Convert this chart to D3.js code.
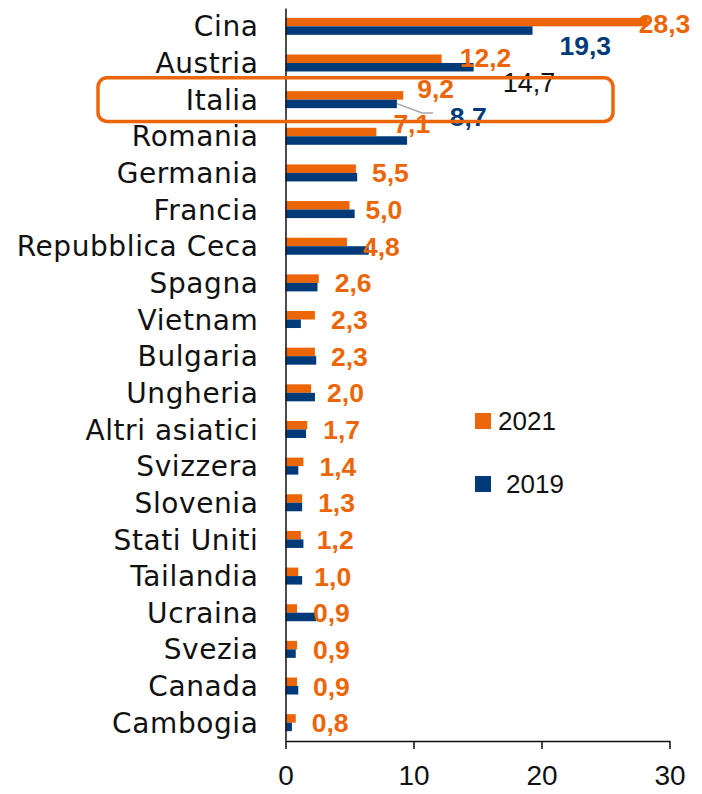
<!DOCTYPE html>
<html><head><meta charset="utf-8">
<script src="https://cdn.jsdelivr.net/npm/d3@7"></script>
<style>
html,body{margin:0;padding:0;background:#fff;}
svg{display:block;}
</style></head>
<body>
<svg id="chart" width="702" height="794"></svg>
<script>
const categories = ["Cina","Austria","Italia","Romania","Germania","Francia","Repubblica Ceca","Spagna","Vietnam","Bulgaria","Ungheria","Altri asiatici","Svizzera","Slovenia","Stati Uniti","Tailandia","Ucraina","Svezia","Canada","Cambogia"];
const values2021 = [28.3,12.2,9.2,7.1,5.5,5.0,4.8,2.6,2.3,2.3,2.0,1.7,1.4,1.3,1.2,1.0,0.9,0.9,0.9,0.8];
const values2019 = [19.3,14.7,8.7,9.5,5.6,5.4,6.5,2.5,1.2,2.4,2.3,1.6,1.0,1.3,1.4,1.3,2.4,0.8,1.0,0.5];
const seriesNames = ["2021","2019"];
const xTicks = [0,10,20,30];

const ORANGE = "#EC6608", BLUE = "#003A78";
const svg = d3.select("#chart");
const x = d3.scaleLinear().domain([0,30]).range([285.5,669.5]);
const y = d3.scaleBand().domain(categories).range([8,741]).padding(0);
const sub = d3.scaleBand().domain(seriesNames).range([0,17]);
const off = (y.bandwidth()-17)/2;

const data = categories.map((c,i)=>({c, v21:values2021[i], v19:values2019[i]}));

// bars
const g = svg.append("g");
g.selectAll("rect.o").data(data).join("rect")
  .attr("x", x(0)).attr("y", d=>y(d.c)+off+sub("2021"))
  .attr("width", d=>x(d.v21)-x(0)).attr("height", sub.bandwidth())
  .attr("fill", ORANGE);
g.selectAll("rect.b").data(data).join("rect")
  .attr("x", x(0)).attr("y", d=>y(d.c)+off+sub("2019"))
  .attr("width", d=>x(d.v19)-x(0)).attr("height", sub.bandwidth())
  .attr("fill", BLUE);

// x axis
const xa = svg.append("g").attr("transform","translate(0,741)")
  .call(d3.axisBottom(x).tickValues(xTicks).tickSize(8).tickPadding(16).tickSizeOuter(0));
xa.select(".domain").attr("stroke","#111").attr("stroke-width",1.5);
xa.selectAll(".tick line").attr("stroke","#111").attr("stroke-width",1.5);
xa.selectAll("text").attr("font-family","Liberation Sans, Arial, sans-serif").attr("font-size",28).attr("fill","#111");

// y axis
const ya = svg.append("g").attr("transform","translate("+x(0)+",0)")
  .call(d3.axisLeft(y).tickSize(0).tickPadding(27));
ya.select(".domain").attr("stroke","#111").attr("stroke-width",1.5);
ya.selectAll("text").attr("font-family","DejaVu Sans, sans-serif").attr("font-size",28)
  .attr("letter-spacing","0.6px").attr("fill","#111").attr("dy","0.36em");

// data labels 2021 (with manual placement tweaks for the top rows)
const adj21 = {"Cina":[-9,-3],"Austria":[18,-6],"Italia":[14,-11],"Romania":[17,-13]};
const fmt = v => d3.format(".1f")(v).replace(".",",");
svg.append("g").selectAll("text").data(data).join("text")
  .attr("x", d=>x(d.v21)+(adj21[d.c]?adj21[d.c][0]:16))
  .attr("y", d=>y(d.c)+y.bandwidth()/2+(adj21[d.c]?adj21[d.c][1]:0))
  .attr("dy","0.36em")
  .attr("font-family","Liberation Sans, Arial, sans-serif").attr("font-weight","bold").attr("font-size",26.5)
  .attr("fill",ORANGE).text(d=>fmt(d.v21));

// data labels 2019 for top rows
const lab19 = [
  {c:"Cina", dx:27, dy:19, color:BLUE, bold:true},
  {c:"Austria", dx:29, dy:19, color:"#111", bold:false},
  {c:"Italia", dx:53, dy:17, color:BLUE, bold:true}
];
const idx = c => categories.indexOf(c);
svg.append("g").selectAll("text").data(lab19).join("text")
  .attr("x", d=>x(values2019[idx(d.c)])+d.dx)
  .attr("y", d=>y(d.c)+y.bandwidth()/2+d.dy)
  .attr("dy","0.36em")
  .attr("font-family","Liberation Sans, Arial, sans-serif")
  .attr("font-weight", d=>d.bold?"bold":"normal")
  .attr("font-size", d=>d.bold?26.5:27)
  .attr("fill", d=>d.color).text(d=>fmt(values2019[idx(d.c)]));

// leader line for Italia 2019
const it = y("Italia");
svg.append("path")
  .attr("d", d3.line()([[x(8.7), it+off+sub("2019")+4],[422,113],[433,113]]))
  .attr("fill","none").attr("stroke","#A6A6A6").attr("stroke-width",1.5);

// highlight box around Italia
svg.append("rect").attr("x",98).attr("y",it-3.5).attr("width",515).attr("height",y.bandwidth()+7)
  .attr("rx",9).attr("ry",9).attr("fill","none").attr("stroke",ORANGE).attr("stroke-width",3.5);

// legend
const leg = svg.append("g");
const legItems = [{n:"2021",c:ORANGE,y:421,tx:498},{n:"2019",c:BLUE,y:484,tx:506}];
leg.selectAll("rect").data(legItems).join("rect")
  .attr("x",475).attr("y",d=>d.y-8).attr("width",16).attr("height",16).attr("fill",d=>d.c);
leg.selectAll("text").data(legItems).join("text")
  .attr("x",d=>d.tx).attr("y",d=>d.y).attr("dy","0.36em")
  .attr("font-family","Liberation Sans, Arial, sans-serif").attr("font-size",26).attr("fill","#111")
  .text(d=>d.n);
</script>
</body></html>
